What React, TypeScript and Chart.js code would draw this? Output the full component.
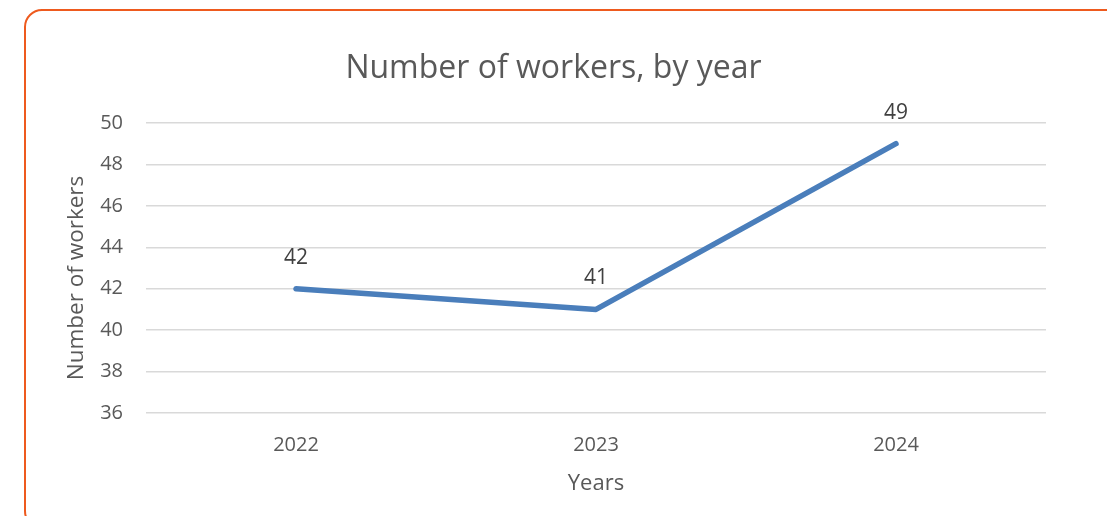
import React, { useEffect, useRef } from "react";
import { Chart, registerables } from "chart.js";

Chart.register(...registerables);

const years = ["2022", "2023", "2024"];
const workers = [42, 41, 49];
const yMin = 36;
const yMax = 50;
const yStep = 2;
const chartTitle = "Number of workers, by year";
const xTitle = "Years";
const yTitle = "Number of workers";

const FONT = "'Open Sans', 'Noto Sans', sans-serif";
const TEXT = "#595959";

const dataLabels = {
  id: "dataLabels",
  afterDatasetsDraw(chart: any) {
    const ctx = chart.ctx;
    const meta = chart.getDatasetMeta(0);
    const ds = chart.data.datasets[0];
    ctx.save();
    ctx.font = `21px ${FONT}`;
    ctx.fillStyle = "#404040";
    ctx.textAlign = "center";
    ctx.textBaseline = "middle";
    meta.data.forEach((pt: any, i: number) => {
      ctx.fillText(String(ds.data[i]), pt.x, pt.y - 31);
    });
    ctx.restore();
  },
};

const yAxisTitle = {
  id: "yAxisTitle",
  afterDraw(chart: any) {
    const ctx = chart.ctx;
    const { top, bottom } = chart.chartArea;
    ctx.save();
    ctx.font = `22.5px ${FONT}`;
    ctx.fillStyle = TEXT;
    ctx.textAlign = "center";
    ctx.textBaseline = "middle";
    ctx.translate(77, (top + bottom) / 2 + 10);
    ctx.rotate(-Math.PI / 2);
    ctx.fillText(yTitle, 0, 0);
    ctx.restore();
  },
};

export default function App() {
  const ref = useRef<HTMLCanvasElement>(null);
  useEffect(() => {
    if (!ref.current) return;
    const chart = new Chart(ref.current, {
      type: "line",
      data: {
        labels: years,
        datasets: [
          {
            data: workers,
            borderColor: "#4A7EBB",
            borderWidth: 5.5,
            pointRadius: 0,
            tension: 0,
            borderCapStyle: "round",
            borderJoinStyle: "round",
            yAxisID: "y",
          },
        ],
      },
      options: {
        responsive: false,
        animation: false,
        layout: { padding: { top: 50, right: 0, left: 0, bottom: 0 } },
        plugins: {
          legend: { display: false },
          tooltip: { enabled: false },
          title: {
            display: true,
            text: chartTitle,
            color: TEXT,
            font: { family: FONT, size: 32, weight: "normal" },
            padding: { top: 0, bottom: 34.6 },
          },
        },
        scales: {
          x: {
            type: "category",
            offset: true,
            grid: { display: false, drawTicks: false },
            border: { display: false },
            ticks: { color: TEXT, font: { family: FONT, size: 20 }, padding: 20 },
            title: {
              display: true,
              text: xTitle,
              color: TEXT,
              font: { family: FONT, size: 22 },
              padding: { top: 0, bottom: 19 },
            },
            afterFit(scale: any) {
              scale.height = 103;
            },
          },
          y: {
            type: "linear",
            position: "left",
            min: yMin,
            max: yMax,
            ticks: { stepSize: yStep, color: TEXT, font: { family: FONT, size: 20 }, padding: 23 },
            grid: { color: "#D9D9D9", lineWidth: 1.5, drawTicks: false },
            border: { display: false },
            title: { display: false },
            afterFit(scale: any) {
              scale.width = 146;
            },
          },
          yRight: {
            type: "linear",
            position: "right",
            display: true,
            ticks: { display: false },
            grid: { display: false, drawTicks: false },
            border: { display: false },
            afterFit(scale: any) {
              scale.width = 61;
            },
          },
        },
      },
      plugins: [dataLabels, yAxisTitle],
    } as any);
    return () => chart.destroy();
  }, []);

  return (
    <div style={{ position: "fixed", left: 0, top: 0, width: 1107, height: 516, background: "#fff", overflow: "hidden" }}>
      <div
        style={{
          position: "absolute",
          left: 24,
          top: 9,
          width: 1100,
          height: 520,
          border: "2.5px solid #EE5A1E",
          borderRadius: 18,
          boxSizing: "border-box",
        }}
      />
      <canvas ref={ref} width={1107} height={516} style={{ position: "absolute", left: 0, top: 0, width: 1107, height: 516 }} />
    </div>
  );
}
